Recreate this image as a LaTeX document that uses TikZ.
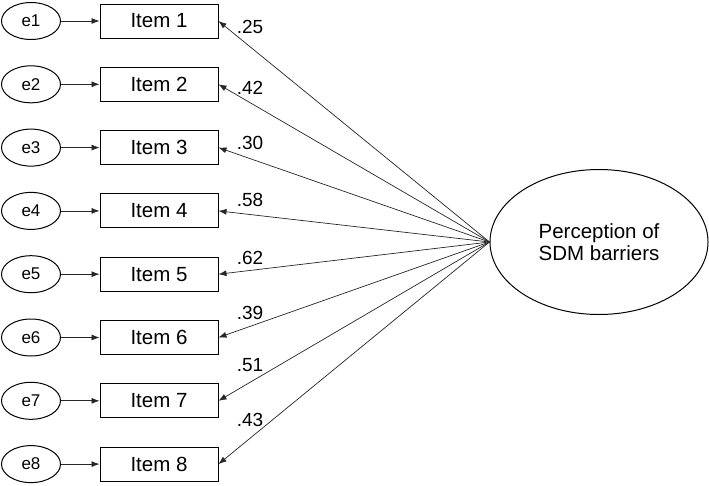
\documentclass[tikz,border=0pt]{standalone}
\usepackage{fontspec}
\setmainfont{Liberation Sans}
\usetikzlibrary{shapes.geometric,arrows.meta}
\begin{document}
\begin{tikzpicture}[x=1pt,y=-1pt,
        item/.style={draw,line width=1pt,minimum width=118pt,minimum height=34pt,inner sep=0pt,font=\fontsize{20.5}{24}\selectfont},
        err/.style={draw,ellipse,line width=1pt,minimum width=59pt,minimum height=37pt,inner sep=0pt,font=\fontsize{17}{20}\selectfont},
        load/.style={inner sep=0pt,font=\fontsize{19}{22}\selectfont},
        arr/.style={-{Latex[length=8pt,width=6pt]},line width=0.7pt,draw=black!85}]
                \useasboundingbox (0,0) rectangle (709,485);

                \node[draw,ellipse,line width=1pt,minimum width=218pt,minimum height=145pt,align=center,
                      font=\fontsize{20.5}{22}\selectfont] (persp) at (599,242) {Perception of\\SDM barriers};

                \node[err] (e1) at (31,21) {e1};
                \node[err] (e2) at (31,84.3) {e2};
                \node[err] (e3) at (31,147.6) {e3};
                \node[err] (e4) at (31,210.9) {e4};
                \node[err] (e5) at (31,274.2) {e5};
                \node[err] (e6) at (31,337.5) {e6};
                \node[err] (e7) at (31,400.8) {e7};
                \node[err] (e8) at (31,464.1) {e8};

                \node[item] (i1) at (159,21) {Item 1};
                \node[item] (i2) at (159,84.3) {Item 2};
                \node[item] (i3) at (159,147.6) {Item 3};
                \node[item] (i4) at (159,210.9) {Item 4};
                \node[item] (i5) at (159,274.2) {Item 5};
                \node[item] (i6) at (159,337.5) {Item 6};
                \node[item] (i7) at (159,400.8) {Item 7};
                \node[item] (i8) at (159,464.1) {Item 8};

                \draw[arr] (e1) -- (i1);
                \draw[arr] (e2) -- (i2);
                \draw[arr] (e3) -- (i3);
                \draw[arr] (e4) -- (i4);
                \draw[arr] (e5) -- (i5);
                \draw[arr] (e6) -- (i6);
                \draw[arr] (e7) -- (i7);
                \draw[arr] (e8) -- (i8);

                \draw[arr] (persp.west) -- (i1.east);
                \draw[arr] (persp.west) -- (i2.east);
                \draw[arr] (persp.west) -- (i3.east);
                \draw[arr] (persp.west) -- (i4.east);
                \draw[arr] (persp.west) -- (i5.east);
                \draw[arr] (persp.west) -- (i6.east);
                \draw[arr] (persp.west) -- (i7.east);
                \draw[arr] (persp.west) -- (i8.east);

                \node[load] (l1) at (250,27) {.25};
                \node[load] (l2) at (250,88) {.42};
                \node[load] (l3) at (250,143) {.30};
                \node[load] (l4) at (250,200) {.58};
                \node[load] (l5) at (250,258) {.62};
                \node[load] (l6) at (250,313) {.39};
                \node[load] (l7) at (250,365) {.51};
                \node[load] (l8) at (250,420) {.43};
            \end{tikzpicture}
\end{document}
